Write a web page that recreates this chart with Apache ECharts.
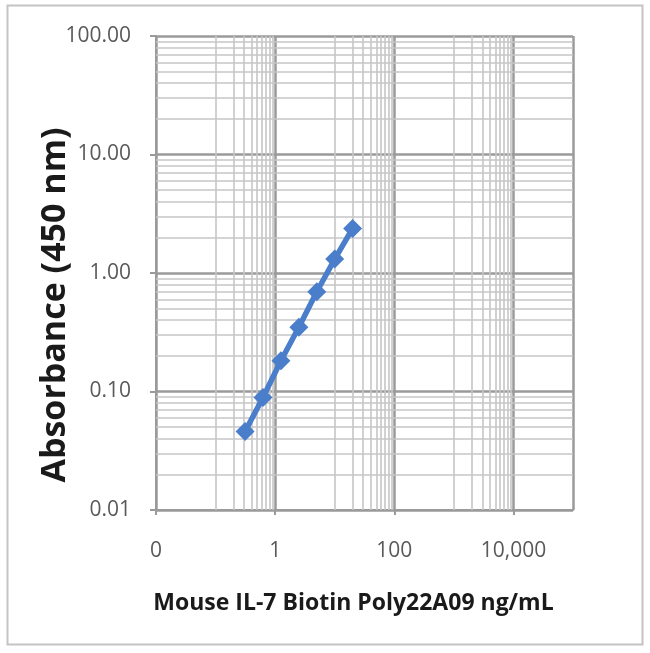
<!DOCTYPE html>
<html>
<head>
<meta charset="utf-8">
<script src="https://cdn.jsdelivr.net/npm/echarts@6/dist/echarts.min.js"></script>
<style>
html,body{margin:0;padding:0;background:#fff;}
#chart{width:650px;height:653px;}
</style>
</head>
<body>
<div id="chart"></div>
<script>
// Data
const concentrations = [0.3125, 0.625, 1.25, 2.5, 5, 10, 20]; // ng/mL
const absorbance = [0.046, 0.089, 0.182, 0.348, 0.695, 1.31, 2.38]; // OD 450 nm

const xTitle = 'Mouse IL-7 Biotin Poly22A09 ng/mL';
const yTitle = 'Absorbance (450 nm)';

// minor grid positions (log-paper style)
const xMinor = [];
[0.1, 10, 1000].forEach(function (b) { for (let k = 1; k <= 9; k++) xMinor.push(+(b * k).toPrecision(6)); });
const yMinor = [];
[0.01, 0.1, 1, 10].forEach(function (b) { for (let k = 2; k <= 9; k++) yMinor.push(+(b * k).toPrecision(6)); });

const chart = echarts.init(document.getElementById('chart'), null, {renderer: 'canvas'});

const labelFont = '"Open Sans", "Noto Sans", sans-serif';
const minorLines = [];
xMinor.forEach(function (v) { minorLines.push({xAxis: v}); });
yMinor.forEach(function (v) { minorLines.push({yAxis: v}); });

chart.setOption({
  animation: false,
  backgroundColor: '#ffffff',
  graphic: [{
    type: 'rect', left: 5, top: 3, shape: {width: 635, height: 639},
    style: {fill: 'none', stroke: '#c4c4c4', lineWidth: 2}, silent: true, z: -1
  }],
  grid: {left: 156, top: 36, right: 77, bottom: 143, containLabel: false},
  xAxis: {
    type: 'log', logBase: 100, min: 0.01, max: 100000, interval: 1,
    name: xTitle, nameLocation: 'middle', nameGap: 82, nameMoveOverlap: false,
    nameTextStyle: {fontFamily: labelFont, fontWeight: 'bold', fontSize: 23, color: '#1a1a1a', padding: [0, 22, 0, 0]},
    axisLine: {show: true, lineStyle: {color: '#9a9a9a', width: 2}},
    axisTick: {show: true, length: 5, lineStyle: {color: '#9a9a9a', width: 2}},
    axisLabel: {
      margin: 31, fontFamily: labelFont, fontSize: 21, color: '#595959', showMaxLabel: false,
      formatter: function (v) { return Math.round(v).toLocaleString('en-US'); }
    },
    splitLine: {show: true, lineStyle: {color: '#9a9a9a', width: 2.5}}
  },
  yAxis: {
    type: 'log', logBase: 10, min: 0.01, max: 100, interval: 1,
    name: yTitle, nameLocation: 'middle', nameGap: 84, nameRotate: 90, nameMoveOverlap: false,
    nameTextStyle: {fontFamily: labelFont, fontWeight: 'bold', fontSize: 34, color: '#1a1a1a', padding: [0, 64, 0, 0]},
    axisLine: {show: true, lineStyle: {color: '#9a9a9a', width: 2}},
    axisTick: {show: true, length: 6, lineStyle: {color: '#9a9a9a', width: 2}},
    axisLabel: {
      margin: 25, fontFamily: labelFont, fontSize: 21, color: '#595959',
      formatter: function (v) { return v.toFixed(2); }
    },
    splitLine: {show: true, lineStyle: {color: '#9a9a9a', width: 2.5}}
  },
  series: [{
    type: 'line', data: [], z: 1, silent: true,
    markLine: {
      silent: true, symbol: 'none', animation: false,
      label: {show: false},
      lineStyle: {color: '#c6c6c6', width: 1.6, type: 'solid'},
      emphasis: {disabled: true},
      data: minorLines
    }
  }, {
    type: 'line', z: 5,
    data: concentrations.map(function (c, i) { return [c, absorbance[i]]; }),
    symbol: 'diamond', symbolSize: 19,
    lineStyle: {color: '#4a7ecb', width: 5.5},
    itemStyle: {color: '#4a7ecb', borderColor: '#4a7ecb', borderWidth: 0}
  }]
});
</script>
</body>
</html>
